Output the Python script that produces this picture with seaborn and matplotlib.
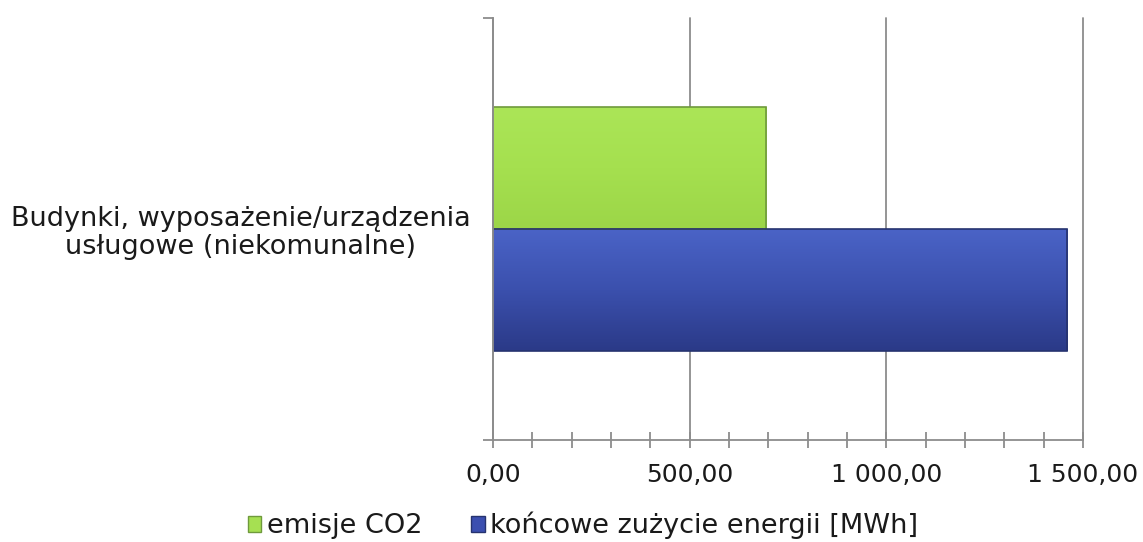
import numpy as np
import pandas as pd
import matplotlib
matplotlib.use("Agg")
import matplotlib.pyplot as plt
from matplotlib.patches import Patch
from matplotlib.colors import LinearSegmentedColormap
from matplotlib.ticker import FixedLocator, MultipleLocator
import seaborn as sns

# Dane
kategorie = ["Budynki, wyposażenie/urządzenia\nusługowe (niekomunalne)"]
serie = ["emisje CO2", "końcowe zużycie energii [MWh]"]
emisje_co2 = [695.0]
zuzycie_energii = [1460.0]
kolory = ["#a6e052", "#3b4fb0"]
krawedzie = ["#6f9a3c", "#26336f"]
gradienty = [["#abe557", "#a5e04f", "#9cd648"], ["#4a63c6", "#3b50ad", "#2b3a88"]]
x_ticki = [0, 500, 1000, 1500]
x_etykiety = ["0,00", "500,00", "1 000,00", "1 500,00"]

df = pd.DataFrame({
    "kategoria": kategorie * 2,
    "seria": [serie[0]] * len(kategorie) + [serie[1]] * len(kategorie),
    "wartosc": emisje_co2 + zuzycie_energii,
})

sns.set_theme(style="white")
plt.rcParams["font.family"] = ["DejaVu Sans"]
szary = "#8c8c8c"
tekst = "#1a1a1a"

fig = plt.figure(figsize=(11.43, 5.42), dpi=100)
ax = fig.add_axes([0.4313, 0.1882, 0.5162, 0.7786])

sns.barplot(data=df, y="kategoria", x="wartosc", hue="seria", hue_order=serie,
            palette=kolory, orient="h", width=0.576, ax=ax, legend=False,
            saturation=1, linewidth=0)

# gradient w słupkach (efekt jak w Excelu)
for bar, kol, grad in zip(ax.patches, krawedzie, gradienty):
    bar.set_edgecolor(kol)
    bar.set_linewidth(1.2)
    cmap = LinearSegmentedColormap.from_list("g", grad)
    x0, y0 = bar.get_x(), bar.get_y()
    w, h = bar.get_width(), bar.get_height()
    img = ax.imshow(np.linspace(0, 1, 64).reshape(-1, 1), cmap=cmap, aspect="auto",
                    extent=(x0, x0 + w, y0 + h, y0), origin="upper", zorder=bar.get_zorder(),
                    interpolation="bicubic")
    img.set_clip_path(bar)
    bar.set_facecolor("none")
    bar.set_zorder(bar.get_zorder() + 0.1)

ax.set_xlim(0, 1500)
ax.set_ylim(0.5, -0.5)
ax.set_xlabel("")
ax.set_ylabel("")

ax.xaxis.set_major_locator(FixedLocator(x_ticki))
ax.set_xticklabels(x_etykiety)
ax.xaxis.set_minor_locator(MultipleLocator(100))
ax.tick_params(axis="x", which="both", direction="inout", length=11, width=1.3,
               color=szary, bottom=True, labelsize=18, pad=11, labelcolor=tekst)

ax.yaxis.set_minor_locator(FixedLocator([-0.5, 0.5]))
ax.tick_params(axis="y", which="major", length=0, labelsize=19.5, pad=16,
               labelcolor=tekst)
ax.tick_params(axis="y", which="minor", direction="out", length=7, width=1.3,
               color=szary, left=True)
for lab in ax.get_yticklabels():
    lab.set_multialignment("center")
    lab.set_linespacing(1.1)

ax.grid(axis="x", which="major", color=szary, linewidth=1.3)
for gl in ax.get_xgridlines():
    gl.set_clip_on(False)
ax.grid(axis="y", visible=False)
ax.set_axisbelow(True)
sns.despine(ax=ax, top=True, right=True)
for s in ["left", "bottom"]:
    ax.spines[s].set_color(szary)
    ax.spines[s].set_linewidth(1.3)

uchwyty = [Patch(facecolor=c, edgecolor=e, linewidth=1) for c, e in zip(kolory, krawedzie)]
fig.legend(uchwyty, serie, loc="center", bbox_to_anchor=(0.51, 0.03), ncol=2,
           frameon=False, fontsize=19.5, handlelength=0.5, handleheight=0.5,
           handletextpad=0.2, columnspacing=1.8, labelcolor=tekst)

fig.savefig("out.png", dpi=100)
